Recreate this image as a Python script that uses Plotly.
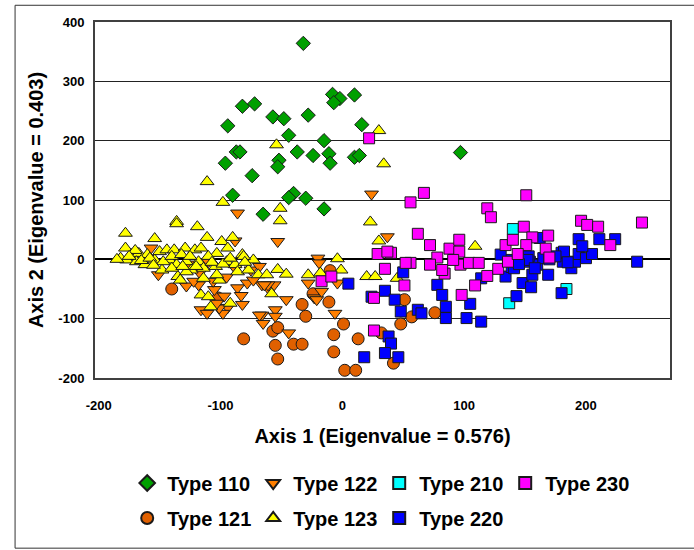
import plotly.graph_objects as go

# ---- data ----
type_names = ["Type 110", "Type 121", "Type 122", "Type 123", "Type 210", "Type 220", "Type 230"]

t110_x = [-32, -8, -2, -7, 10, -82, -72, -57, -48, -28, -94, 16, -44, -15, -87, -84, -37, -24, -11, 10, 14,
          -96, -52, -53, -10, -74, -90, -40, -44, -30, 97, -65, -15]
t110_y = [364, 278, 271, 264, 277, 258, 262, 240, 237, 243, 225, 227, 209, 200, 181, 181, 181, 175, 178, 172, 175,
          162, 167, 156, 162, 141, 108, 111, 104, 103, 180, 76, 85]

t121_x = [-140, -33, -30, -11, -24, -10, 1, -7, -7, 13, 2, 11, -81, -57, -53, -55, -53, -40, -33, -102,
          51, 57, 48, 76, 32, 42]
t121_y = [-50, -76, -96, -72, -58, -19, -109, -127, -156, -134, -187, -187, -134, -121, -115, -145, -168, -143, -143, -65,
          -68, -97, -109, -90, -124, -175]

t122_x = [-86, -53, 24, 37, -20, -19, -46, -66, -65, -55, -55, -44, -6, -23, -4, -28, -157, -151, -128, -118,
          -116, -111, -105, -97, -94, -86, -83, -82, -78, -75, -66, -60, -56, -98, -101, -103, -110, -88, -122, -106,
          -68, -68, -117, -21, -17, -61, -64, -73, -125, -95, -88]
t122_y = [78, 30, 110, 38, 2, -6, -68, -94, -108, -85, -96, -124, -91, -65, -40, -40, 19, -26, -45, -43,
          -85, -91, -51, -62, -81, -48, -61, -76, -40, -18, -43, -51, -43, -91, -82, -74, -4, 31, -37, -37,
          -12, -94, -23, -68, -54, -43, -43, -35, -8, -30, -15]

t123_x = [-98, -136, -136, -119, -178, -154, -111, -99, -90, -178, -182, -177, -173, -167, -169, -162, -160, -154,
          -150, -144, -138, -129, -121, -116, -103, -94, -82, -73, -148, -142, -136, -128, -124, -118, -114, -104,
          -95, -88, -86, -77, -135, -128, -133, -114, -101, -116, -110, -108, -92, -103, -147, -111, -51, -51,
          -81, -69, -62, -53, -46, -58, -28, -18, -4, -1, 23, 30, 20, 27, -54, 30, 34, 109, 45,
          -170, -165, -158, -140, -132, -125, -110, -107, -98, -92, -80, -120, -140, -185, -175, -155, -131]
t123_y = [96, 64, 60, 55, 44, 35, 37, 30, 37, 19, 2, -1, 8, 10, -4, -9, 8, -1,
          13, 16, 16, 19, 16, 19, 10, 19, 8, -1, -18, -1, -9, -4, -18, -4, -15, -12,
          -4, -9, -21, -18, -29, -21, -35, -32, -35, -60, -63, -80, -74, -26, -4, 131, 86, 65,
          5, -26, -26, -17, -25, -58, -26, -23, 1, -18, 63, 31, -29, -29, 193, 217, 161, 22, -32,
          15, -2, 2, 5, 8, 5, 5, -5, -8, 2, -5, -12, -15, 0, 5, -10, -12]

t210_x = [140, 137, 184]
t210_y = [51, -74, -50]

t220_x = [50, 35, 43, 48, 62, 65, 78, 82, 85, 85, 102, 114, 105, 114, 38, 40, 35, 46, 134, 139, 143, 148,
          155, 156, 169, 154, 160, 165, 180, 181, 188, 191, 194, 200, 205, 194, 211, 224, 242, 197, 180, 162,
          153, 136, 130, 141, 152, 182, 5, 18, 24, 145, 170, 175, 158, 185]
t220_y = [-22, -53, -68, -88, -85, -91, -43, -60, -80, -99, -99, -105, -75, -32, -130, -142, -158, -165, -29, -13, -62, -40,
          -47, -26, -26, -4, -9, 2, -57, -4, -15, -4, 9, 2, 9, 34, 34, 34, -4, 22, 11, 36,
          5, -1, 8, -15, -1, 13, -41, -165, -63, -8, 0, 5, -15, -5]

t230_x = [56, 67, 151, 119, 122, 62, 72, 88, 96, 96, 78, 72, 56, 40, 35, 84, 97, 104, 112, 119, 109, 98, 51,
          128, 136, 134, 140, 149, 156, 151, 144, 169, 167, 170, 196, 201, 210, 220, 246, -17, -9, 29, 37, 26,
          26, 22, 52, 82, 91]
t230_y = [96, 112, 108, 86, 71, 43, 24, 18, 33, 13, 3, -9, -6, 11, -16, -24, -9, -6, -6, -28, -44, -60, -44,
          -16, -4, 24, 33, 55, 37, 24, 9, 40, 18, 3, 65, 58, 55, 24, 62, -37, -29, 9, 13, -65,
          -120, 204, -6, -18, -1]

x_ticks = [-200, -100, 0, 100, 200]
y_ticks = [-200, -100, 0, 100, 200, 300, 400]

# ---- styling ----
# (name, x, y, symbol, colour, size, legend, rank)
series = [
    ("Type 110", t110_x, t110_y, "diamond", "#00A000", 11, "legend", 1),
    ("Type 121", t121_x, t121_y, "circle", "#E06000", 12, "legend2", 1),
    ("Type 122", t122_x, t122_y, "triangle-down", "#FF7F00", 12, "legend", 2),
    ("Type 123", t123_x, t123_y, "triangle-up", "#FFFF00", 12, "legend2", 2),
    ("Type 210", t210_x, t210_y, "square", "#00FFFF", 11, "legend", 3),
    ("Type 220", t220_x, t220_y, "square", "#0000FF", 11, "legend2", 3),
    ("Type 230", t230_x, t230_y, "square", "#FF00FF", 11, "legend", 4),
]

FONT = "Arial, Liberation Sans, sans-serif"

fig = go.Figure()
for name, xs, ys, sym, col, size, leg, rank in series:
    fig.add_trace(go.Scatter(
        x=xs, y=ys, mode="markers", name=name, legend=leg, legendrank=rank,
        marker=dict(symbol=sym, color=col, size=size, line=dict(color="#1a1a1a", width=1)),
    ))

leg_common = dict(
    orientation="h", xanchor="left", yanchor="middle",
    font=dict(size=20, weight="bold", family=FONT),
    entrywidth=81, entrywidthmode="pixels", itemsizing="constant",
    traceorder="normal", bgcolor="rgba(0,0,0,0)",
)

fig.update_layout(
    width=694, height=550,
    margin=dict(l=95, r=24, t=22, b=172, autoexpand=False),
    paper_bgcolor="white", plot_bgcolor="white",
    font=dict(family=FONT, color="black"),
    showlegend=True,
    legend=dict(x=0.056, y=(378 - 483) / 356, **leg_common),
    legend2=dict(x=0.056, y=(378 - 518) / 356, **leg_common),
    xaxis=dict(
        range=[-203, 269], tickvals=x_ticks, ticktext=[str(v) for v in x_ticks],
        showgrid=False, zeroline=False, showline=True, mirror=True,
        linecolor="#404040", linewidth=2, ticks="", ticklabelstandoff=14,
        tickfont=dict(size=13, weight="bold", family=FONT),
        title=dict(text="Axis 1 (Eigenvalue = 0.576)", font=dict(size=20, weight="bold", family=FONT), standoff=17),
    ),
    yaxis=dict(
        range=[-200, 400], tickvals=y_ticks, ticktext=[str(v) for v in y_ticks],
        showgrid=True, gridcolor="#222222", gridwidth=1,
        zeroline=True, zerolinecolor="black", zerolinewidth=2,
        showline=True, mirror=True, linecolor="#404040", linewidth=2, ticks="", ticklabelstandoff=6,
        tickfont=dict(size=13, weight="bold", family=FONT),
        title=dict(text="Axis 2 (Eigenvalue = 0.403)", font=dict(size=20, weight="bold", family=FONT), standoff=9),
    ),
    shapes=[dict(type="rect", xref="paper", yref="paper", x0=-0.139, x1=1.043, y0=-0.478, y1=1.047,
                 line=dict(color="#333333", width=1), layer="below")],
)

fig.write_html("out.html", config={"displayModeBar": False},
               post_script="document.body.style.margin='0';")
